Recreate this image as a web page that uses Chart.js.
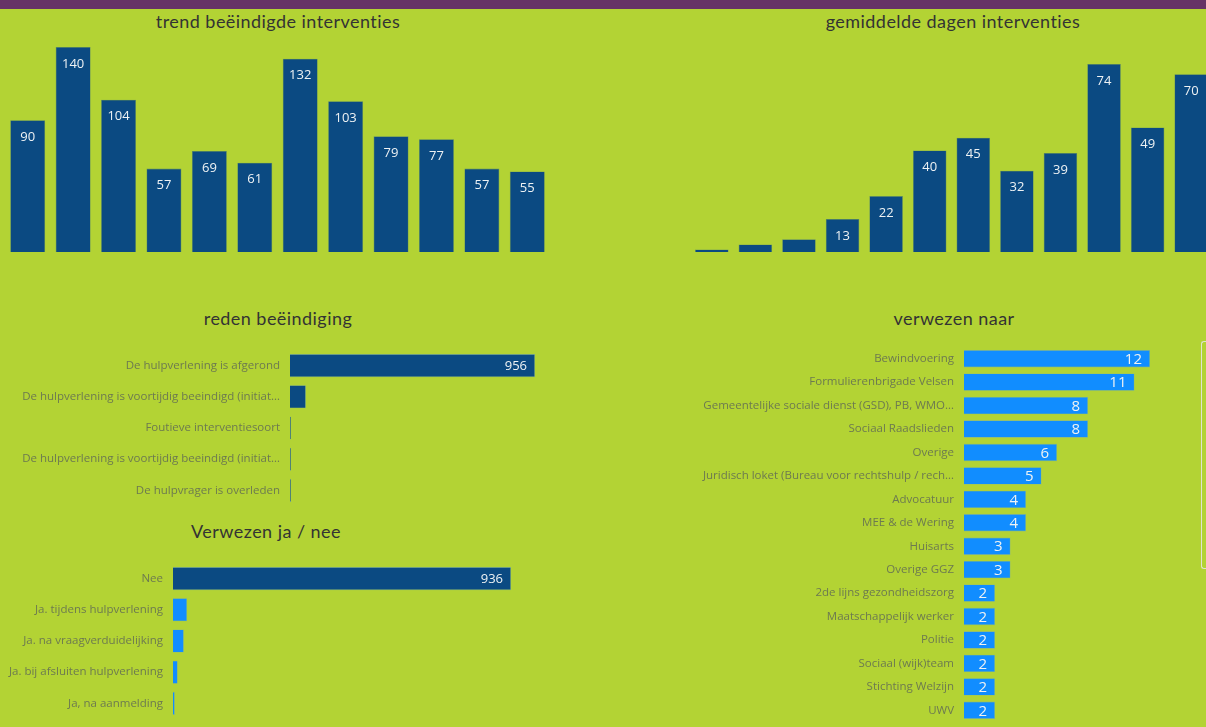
<!DOCTYPE html>
<html>
<head>
<meta charset="utf-8">
<script src="https://cdn.jsdelivr.net/npm/chart.js@4/dist/chart.umd.min.js"></script>
<style>
  html, body { margin: 0; padding: 0; width: 1206px; height: 727px; overflow: hidden; background: #b3d334; }
  #topbar { position: absolute; left: 0; top: 0; width: 1206px; height: 9px; background: #663366; }
  canvas { position: absolute; }
  .titel { position: absolute; font-family: Lato, sans-serif; font-size: 18px; color: #333; transform: translate(-50%, -50%); white-space: nowrap; letter-spacing: 0.45px; }
  #scroll { position: absolute; left: 1201px; top: 341px; width: 5px; height: 226px; border: 1px solid #dfe3cf; border-right: none; border-radius: 3px 0 0 3px; }
</style>
</head>
<body>
<div id="topbar"></div>
<div class="titel" style="left:278px;top:21px">trend beëindigde interventies</div>
<div class="titel" style="left:953px;top:21px">gemiddelde dagen interventies</div>
<div class="titel" style="left:278px;top:318px">reden beëindiging</div>
<div class="titel" style="left:266px;top:531px">Verwezen ja / nee</div>
<div class="titel" style="left:954px;top:318px">verwezen naar</div>
<div id="scroll"></div>

<canvas id="trend" width="545" height="205" style="left:5px;top:47px"></canvas>
<canvas id="dagen" width="523" height="188" style="left:690px;top:64px"></canvas>
<canvas id="reden" width="535" height="156" style="left:0px;top:350px"></canvas>
<canvas id="verwezen" width="511" height="156" style="left:0px;top:563px"></canvas>
<canvas id="naar" width="470" height="375" style="left:680px;top:347px"></canvas>

<script>
// data uit het dashboard
const perioden = ['1', '2', '3', '4', '5', '6', '7', '8', '9', '10', '11', '12']
const trendWaarden = [90, 140, 104, 57, 69, 61, 132, 103, 79, 77, 57, 55]
const dagenWaarden = [1, 3, 5, 13, 22, 40, 45, 32, 39, 74, 49, 70]

const redenLabels = [
    'De hulpverlening is afgerond',
    'De hulpverlening is voortijdig beeindigd (initiat…',
    'Foutieve interventiesoort',
    'De hulpverlening is voortijdig beeindigd (initiat…',
    'De hulpvrager is overleden'
]
const redenWaarden = [956, 62, 4, 4, 4]

const verwezenLabels = [
    'Nee',
    'Ja. tijdens hulpverlening',
    'Ja. na vraagverduidelijking',
    'Ja. bij afsluiten hulpverlening',
    'Ja, na aanmelding'
]
const verwezenWaarden = [936, 39, 30, 13, 5]

const naarLabels = [
    'Bewindvoering',
    'Formulierenbrigade Velsen',
    'Gemeentelijke sociale dienst (GSD), PB, WMO…',
    'Sociaal Raadslieden',
    'Overige',
    'Juridisch loket (Bureau voor rechtshulp / rech…',
    'Advocatuur',
    'MEE & de Wering',
    'Huisarts',
    'Overige GGZ',
    '2de lijns gezondheidszorg',
    'Maatschappelijk werker',
    'Politie',
    'Sociaal (wijk)team',
    'Stichting Welzijn',
    'UWV'
]
const naarWaarden = [12, 11, 8, 8, 6, 5, 4, 4, 3, 3, 2, 2, 2, 2, 2, 2]

const donkerBlauw = '#0b4a82'
const lichtBlauw = '#118dff'
const labelKleur = '#6d7a50'
const labelFont = { family: "'Open Sans', sans-serif", size: 11.5 }

// waarden in de balken tekenen
const waardeLabels = {
    id: 'waardeLabels',
    afterDatasetsDraw(chart, args, opts) {
        const ctx = chart.ctx
        const data = chart.data.datasets[0].data
        ctx.save()
        ctx.fillStyle = '#eef2f4'
        ctx.font = opts.font
        chart.getDatasetMeta(0).data.forEach((bar, i) => {
            if (data[i] < opts.min) return
            if (chart.options.indexAxis === 'y') {
                ctx.textAlign = 'right'
                ctx.textBaseline = 'middle'
                ctx.fillText(data[i], bar.x - opts.pad, bar.y + 1)
            } else {
                ctx.textAlign = 'center'
                ctx.textBaseline = 'middle'
                ctx.fillText(data[i], bar.x, bar.y + opts.pad)
            }
        })
        ctx.restore()
    }
}

function kolomGrafiek(id, labels, waarden, max, minLabel) {
    new Chart(document.getElementById(id), {
        type: 'bar',
        data: {
            labels,
            datasets: [{
                data: waarden,
                backgroundColor: donkerBlauw,
                borderColor: '#5d8a6a',
                borderWidth: 0.6,
                categoryPercentage: 1,
                barPercentage: 0.77
            }]
        },
        options: {
            responsive: false,
            animation: false,
            layout: { padding: 0 },
            plugins: {
                legend: { display: false },
                tooltip: { enabled: false },
                waardeLabels: { font: "13px 'Open Sans', sans-serif", min: minLabel, pad: 17 }
            },
            scales: {
                x: { display: false },
                y: { display: false, min: 0, max }
            }
        },
        plugins: [waardeLabels]
    })
}

function balkGrafiek(id, labels, waarden, kleuren, max, asBreedte, minLabel, font, dikte) {
    new Chart(document.getElementById(id), {
        type: 'bar',
        data: {
            labels,
            datasets: [{
                data: waarden,
                backgroundColor: kleuren,
                borderColor: '#7fb0a0',
                borderWidth: 0.6,
                categoryPercentage: 1,
                barPercentage: dikte
            }]
        },
        options: {
            indexAxis: 'y',
            responsive: false,
            animation: false,
            layout: { padding: 0 },
            plugins: {
                legend: { display: false },
                tooltip: { enabled: false },
                waardeLabels: { font, min: minLabel, pad: 8 }
            },
            scales: {
                x: { display: false, min: 0, max },
                y: {
                    grid: { display: false, drawTicks: false },
                    border: { display: false },
                    ticks: { color: labelKleur, font: labelFont, padding: 10, autoSkip: false },
                    afterFit(scale) {
                        scale.width = asBreedte
                        // geen extra ruimte boven en onder de balken
                        scale.paddingTop = 0
                        scale.paddingBottom = 0
                    }
                }
            }
        },
        plugins: [waardeLabels]
    })
}

kolomGrafiek('trend', perioden, trendWaarden, 140, 1)
kolomGrafiek('dagen', perioden, dagenWaarden, 74, 10)

balkGrafiek('reden', redenLabels, redenWaarden, donkerBlauw, 956, 290, 100, "13px 'Open Sans', sans-serif", 0.74)
balkGrafiek('verwezen', verwezenLabels, verwezenWaarden,
    verwezenWaarden.map((v, i) => i === 0 ? donkerBlauw : lichtBlauw), 936, 173, 100, "13px 'Open Sans', sans-serif", 0.74)
balkGrafiek('naar', naarLabels, naarWaarden, lichtBlauw, 12, 284, 1, "15px 'Open Sans', sans-serif", 0.74)
</script>
</body>
</html>
